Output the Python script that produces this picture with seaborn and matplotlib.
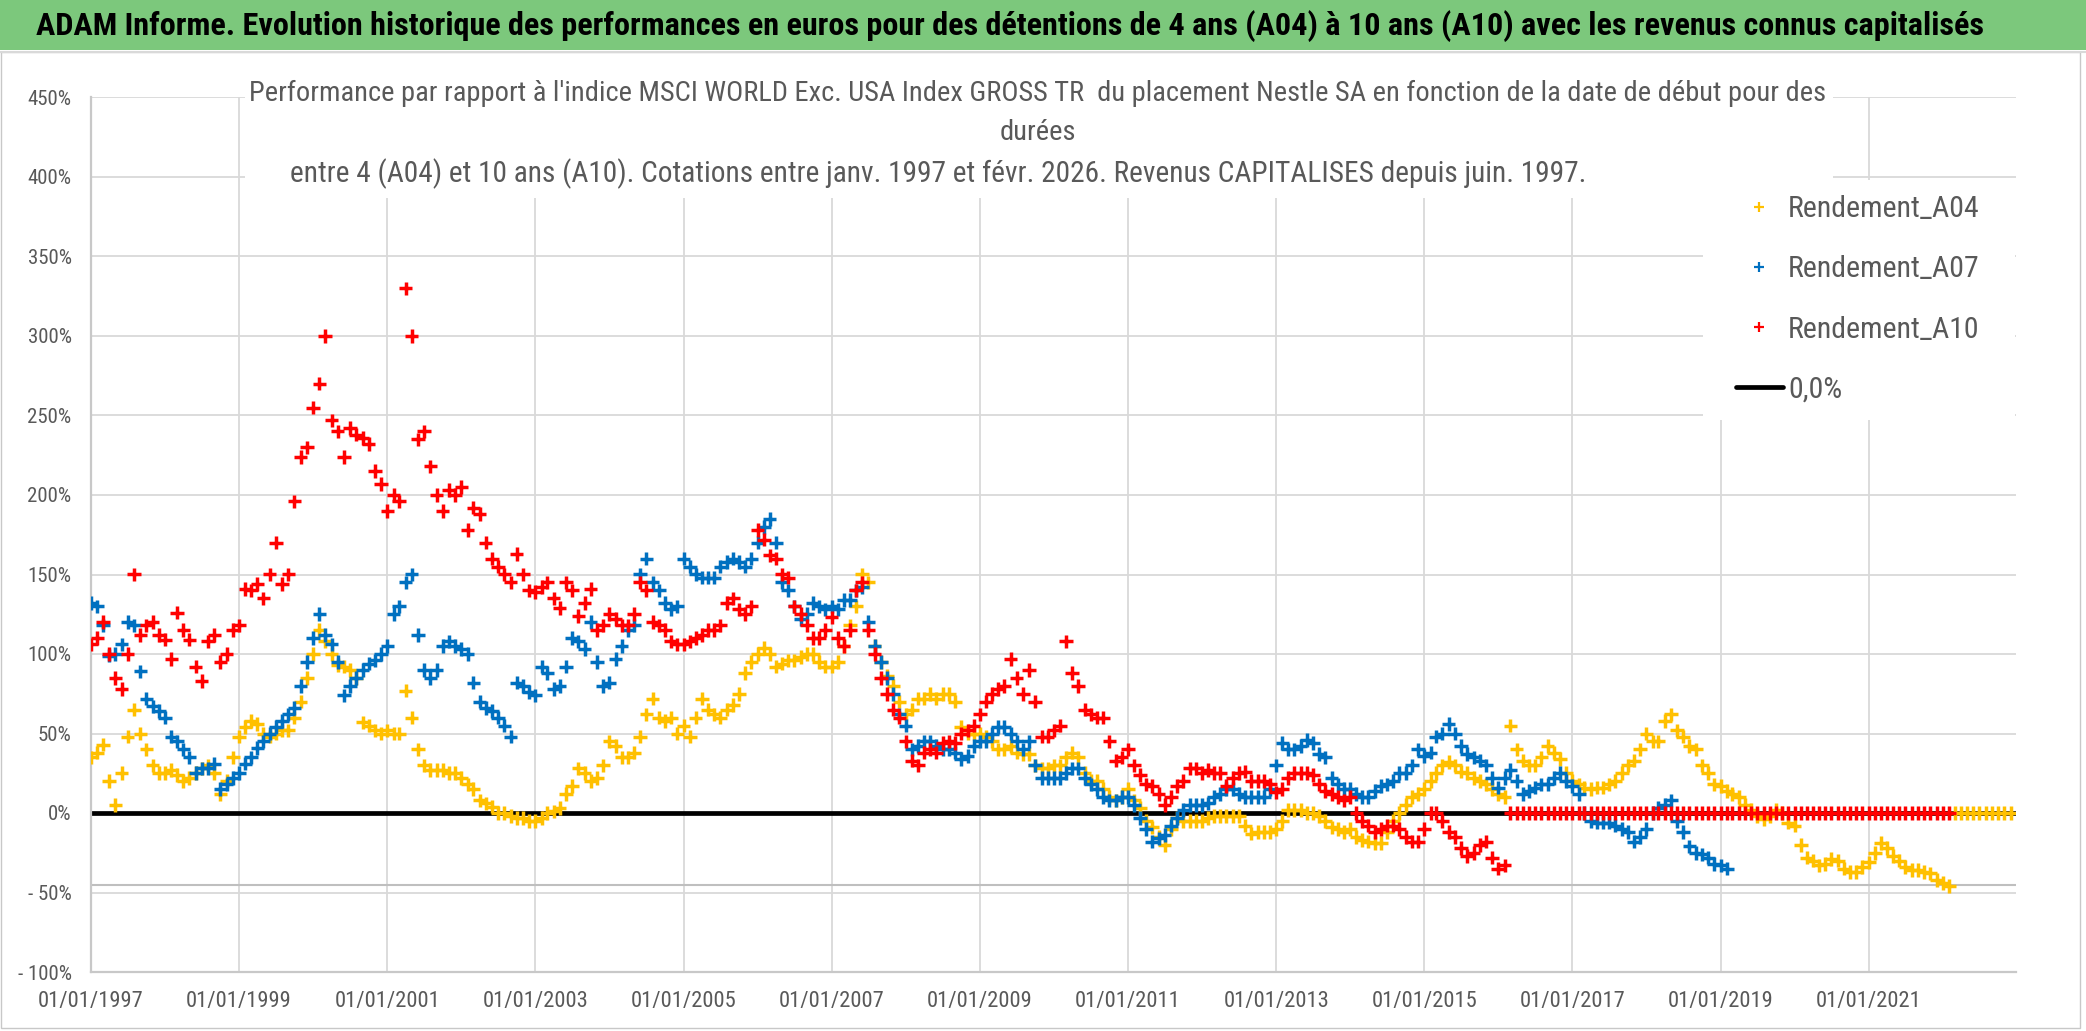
import pandas as pd
import numpy as np
import matplotlib
matplotlib.use('Agg')
import matplotlib.pyplot as plt
import matplotlib.ticker as mticker
from matplotlib.lines import Line2D
from matplotlib.patches import Rectangle
import seaborn as sns

sns.set_theme(style='white')
plt.rcParams['font.family'] = ['Liberation Sans Narrow', 'Roboto Condensed', 'Open Sans', 'DejaVu Sans']

W, H = 2086, 1031

# monthly readings (in %), first point = 01/01/1997
rend_a04 = [
    35, 38, 43, 20, 5, 25, 48, 65, 50, 40, 30, 25,
    25, 27, 24, 20, 22, 25, 28, 30, 25, 12, 20, 35,
    48, 54, 58, 56, 50, 48, 50, 52, 52, 60, 70, 85,
    100, 115, 108, 100, 93, 92, 90, 85, 57, 55, 52, 50,
    52, 50, 50, 77, 60, 40, 30, 27, 27, 27, 25, 25,
    22, 18, 15, 8, 6, 4, 0, 0, -2, -3, -3, -5,
    -5, -3, 0, 1, 3, 12, 17, 28, 25, 20, 22, 30,
    45, 42, 35, 35, 38, 48, 62, 72, 60, 58, 60, 50,
    55, 48, 60, 72, 65, 62, 60, 65, 68, 75, 88, 95,
    100, 104, 100, 92, 94, 96, 96, 98, 100, 100, 95, 92,
    92, 95, 105, 118, 130, 150, 145, 105, 95, 86, 80, 70,
    62, 65, 72, 72, 75, 72, 75, 75, 70, 54, 50, 50,
    50, 48, 45, 40, 40, 42, 38, 37, 37, 30, 28, 28,
    30, 30, 35, 38, 35, 25, 20, 20, 15, 10, 8, 10,
    15, 8, 3, -5, -9, -15, -20, -10, -3, -5, -5, -5,
    -5, -3, -2, -2, -2, -2, -2, -8, -13, -12, -12, -12,
    -10, -5, 2, 2, 2, 0, 0, -2, -5, -9, -10, -12,
    -10, -15, -17, -18, -19, -19, -12, -5, 0, 5, 10, 12,
    15, 20, 25, 30, 32, 30, 26, 25, 22, 20, 18, 15,
    12, 10, 55, 40, 33, 30, 30, 35, 42, 38, 34, 25,
    20, 18, 16, 15, 16, 16, 18, 20, 25, 30, 33, 40,
    50, 45, 45, 58, 62, 52, 48, 42, 40, 30, 25, 18,
    17, 14, 12, 10, 5, 2, -2, -4, -2, 2, 0, -6,
    -8, -20, -28, -30, -33, -32, -29, -30, -35, -37, -37, -34,
    -31, -25, -19, -22, -27, -30, -34, -36, -36, -37, -38, -42,
    -44, -46, 0, 0, 0, 0, 0, 0, 0, 0, 0, 0,
]

rend_a07 = [
    132, 130, 118, 99, 100, 106, 120, 118, 89, 72, 67, 64,
    60, 48, 45, 40, 35, 25, 28, 28, 31, 15, 18, 22,
    25, 31, 35, 41, 45, 50, 54, 58, 62, 66, 80, 95,
    110, 125, 112, 106, 95, 74, 80, 85, 90, 94, 96, 100,
    105, 125, 130, 145, 150, 112, 90, 85, 90, 105, 108, 105,
    103, 100, 82, 70, 66, 64, 60, 55, 48, 82, 80, 76,
    74, 92, 88, 78, 80, 92, 110, 108, 103, 120, 95, 80,
    82, 97, 105, 115, 118, 150, 160, 145, 140, 132, 128, 130,
    160, 155, 150, 148, 148, 148, 155, 158, 160, 158, 155, 160,
    170, 180, 185, 170, 145, 140, 130, 122, 125, 132, 130, 128,
    130, 128, 134, 134, 140, 142, 120, 105, 95, 85, 75, 62,
    55, 40, 42, 45, 45, 42, 40, 40, 38, 34, 36, 42,
    45, 45, 50, 54, 54, 50, 45, 40, 45, 30, 22, 22,
    22, 22, 25, 28, 28, 22, 18, 15, 10, 8, 8, 10,
    10, 5, -3, -10, -18, -16, -14, -8, -3, 2, 5, 5,
    5, 6, 10, 12, 15, 15, 12, 10, 10, 10, 10, 15,
    30, 44, 40, 40, 42, 46, 44, 37, 35, 22, 18, 15,
    15, 12, 10, 10, 14, 17, 18, 20, 25, 25, 30, 40,
    36, 38, 48, 50, 56, 50, 42, 37, 35, 33, 30, 22,
    16, 22, 27, 20, 12, 14, 16, 18, 18, 22, 25, 20,
    17, 12, 0, -5, -6, -6, -6, -8, -10, -12, -18, -15,
    -10, 0, 3, 5, 8, -5, -12, -21, -25, -26, -28, -32,
    -33, -35,
]

rend_a10 = [
    106, 110, 120, 100, 85, 78, 100, 150, 112, 118, 120, 112,
    109, 97, 126, 115, 109, 92, 83, 108, 112, 95, 100, 115,
    118, 141, 140, 144, 135, 150, 170, 144, 150, 196, 224, 230,
    255, 270, 300, 247, 240, 224, 242, 238, 236, 232, 215, 207,
    190, 200, 196, 330, 300, 235, 240, 218, 200, 190, 203, 200,
    205, 178, 192, 188, 170, 160, 155, 150, 145, 163, 150, 140,
    139, 142, 145, 135, 129, 145, 140, 124, 132, 141, 115, 118,
    125, 122, 118, 118, 125, 145, 140, 120, 118, 115, 108, 106,
    106, 108, 110, 112, 115, 115, 118, 132, 135, 128, 125, 130,
    178, 172, 162, 160, 150, 148, 130, 125, 118, 110, 110, 115,
    123, 110, 105, 115, 140, 145, 115, 100, 85, 75, 65, 60,
    45, 33, 30, 38, 40, 38, 44, 45, 44, 50, 52, 55,
    62, 70, 75, 78, 80, 97, 85, 75, 90, 70, 48, 48,
    52, 55, 108, 88, 80, 65, 62, 60, 60, 45, 33, 35,
    40, 30, 24, 18, 17, 12, 5, 10, 17, 20, 28, 28,
    25, 27, 25, 25, 17, 22, 25, 26, 20, 20, 20, 18,
    13, 15, 22, 25, 25, 25, 24, 18, 14, 12, 10, 8,
    10, 0, -5, -8, -12, -10, -8, -8, -10, -15, -18, -18,
    -10, 0, 0, -5, -12, -15, -22, -27, -25, -20, -18, -28,
    -35, -33, 0, 0, 0, 0, 0, 0, 0, 0, 0, 0,
    0, 0, 0, 0, 0, 0, 0, 0, 0, 0, 0, 0,
    0, 0, 0, 0, 0, 0, 0, 0, 0, 0, 0, 0,
    0, 0, 0, 0, 0, 0, 0, 0, 0, 0, 0, 0,
    0, 0, 0, 0, 0, 0, 0, 0, 0, 0, 0, 0,
    0, 0, 0, 0, 0, 0, 0, 0, 0, 0, 0, 0,
    0, 0,
]

series_names = ['Rendement_A04', 'Rendement_A07', 'Rendement_A10']
series_colors = ['#FFC000', '#0070C0', '#FF0000']
year_ticks = ['1997', '1999', '2001', '2003', '2005', '2007', '2009',
              '2011', '2013', '2015', '2017', '2019', '2021']

title = ("ADAM Informe. Evolution historique des performances en euros pour des détentions "
         "de 4 ans (A04) à 10 ans (A10) avec les revenus connus capitalisés")
sub1 = ("Performance par rapport à l'indice MSCI WORLD Exc. USA Index GROSS TR  du placement "
        "Nestle SA en fonction de la date de début pour des")
sub2 = "durées"
sub3 = ("entre 4 (A04) et 10 ans (A10). Cotations entre janv. 1997 et févr. 2026. "
        "Revenus CAPITALISES depuis juin. 1997.")

frames = []
for name, vals in zip(series_names, [rend_a04, rend_a07, rend_a10]):
    frames.append(pd.DataFrame({
        'date': pd.date_range('1997-01-01', periods=len(vals), freq='MS'),
        'rendement': vals,
        'serie': name,
    }))
df = pd.concat(frames, ignore_index=True)

fig = plt.figure(figsize=(W / 100, H / 100), dpi=100)
fig.patch.set_facecolor('white')

# title band
fig.add_artist(Rectangle((0, 1 - 50 / H), 1, 50 / H, transform=fig.transFigure,
                         facecolor='#7CC87C', edgecolor='none', zorder=0))
fig.add_artist(Line2D([0, 1], [1 - 52 / H, 1 - 52 / H], transform=fig.transFigure,
                      color='#d9d9d9', lw=1.5))
fig.add_artist(Rectangle((1 / W, 3 / H), 2079 / W, (H - 55) / H, transform=fig.transFigure,
                         facecolor='none', edgecolor='#c8c8c8', lw=1))
fig.text(1010 / W, 1 - 26 / H, title, ha='center', va='center',
         fontsize=23.2, fontweight='bold', color='black')

ax = fig.add_axes([91 / W, 1 - 972 / H, (2016 - 91) / W, (972 - 97.5) / H])

sns.scatterplot(data=df, x='date', y='rendement', hue='serie', palette=series_colors,
                hue_order=series_names, marker='+', s=95, linewidth=2.5,
                legend=False, ax=ax, zorder=3)
ax.axhline(0, color='black', lw=3.4, zorder=2.5)
ax.axhline(-45.5, color='#bfbfbf', lw=1.5, zorder=1)

ax.set_xlim(pd.Timestamp('1997-01-01'), pd.Timestamp('2022-12-28'))
ax.set_ylim(-100, 450)
ax.yaxis.set_major_locator(mticker.MultipleLocator(50))
ax.yaxis.set_major_formatter(mticker.FuncFormatter(
    lambda v, _: f"{int(v)}%" if v >= 0 else f"- {int(-v)}%"))
ax.set_xticks([pd.Timestamp(f'{y}-01-01') for y in year_ticks])
ax.set_xticklabels([f'01/01/{y}' for y in year_ticks])
ax.set_xlabel('')
ax.set_ylabel('')
ax.tick_params(axis='y', length=0, pad=14, labelsize=15, labelcolor='#595959')
ax.tick_params(axis='x', length=0, pad=14, labelsize=16.2, labelcolor='#595959')
ax.grid(True, color='#d9d9d9', lw=1.3)
ax.set_axisbelow(True)
for s in ['top', 'right']:
    ax.spines[s].set_visible(False)
for s in ['left', 'bottom']:
    ax.spines[s].set_color('#c8c8c8')
    ax.spines[s].set_linewidth(1.6)

# white boxes behind subtitle and legend
ax.add_patch(Rectangle((245 / W, 1 - 198 / H), (1833 - 245) / W, 110 / H,
                       transform=fig.transFigure, facecolor='white', edgecolor='none',
                       zorder=2, clip_on=False))
ax.add_patch(Rectangle((1703 / W, 1 - 420 / H), (2015 - 1703) / W, 240 / H,
                       transform=fig.transFigure, facecolor='white', edgecolor='none',
                       zorder=2, clip_on=False))

fig.text(1038 / W, 1 - 93 / H, sub1, ha='center', va='center', fontsize=20.5, color='#595959')
fig.text(1038 / W, 1 - 133 / H, sub2, ha='center', va='center', fontsize=20.5, color='#595959')
fig.text(290 / W, 1 - 174 / H, sub3, ha='left', va='center', fontsize=21.2, color='#595959')

handles = [Line2D([], [], ls='', marker='+', color=c, markersize=7, mew=1.6)
           for c in series_colors]
handles.append(Line2D([], [], color='black', lw=3.4))
leg = ax.legend(handles, series_names + ['0,0%'], loc='upper left',
                bbox_to_anchor=(1736 / W, 1 - 195 / H), bbox_transform=fig.transFigure,
                frameon=False, fontsize=21.5, handlelength=1.57, handletextpad=0.17,
                labelspacing=1.08, borderpad=0, borderaxespad=0)
for t in leg.get_texts():
    t.set_color('#595959')
leg.set_zorder(5)

fig.savefig('out.png', dpi=100)
